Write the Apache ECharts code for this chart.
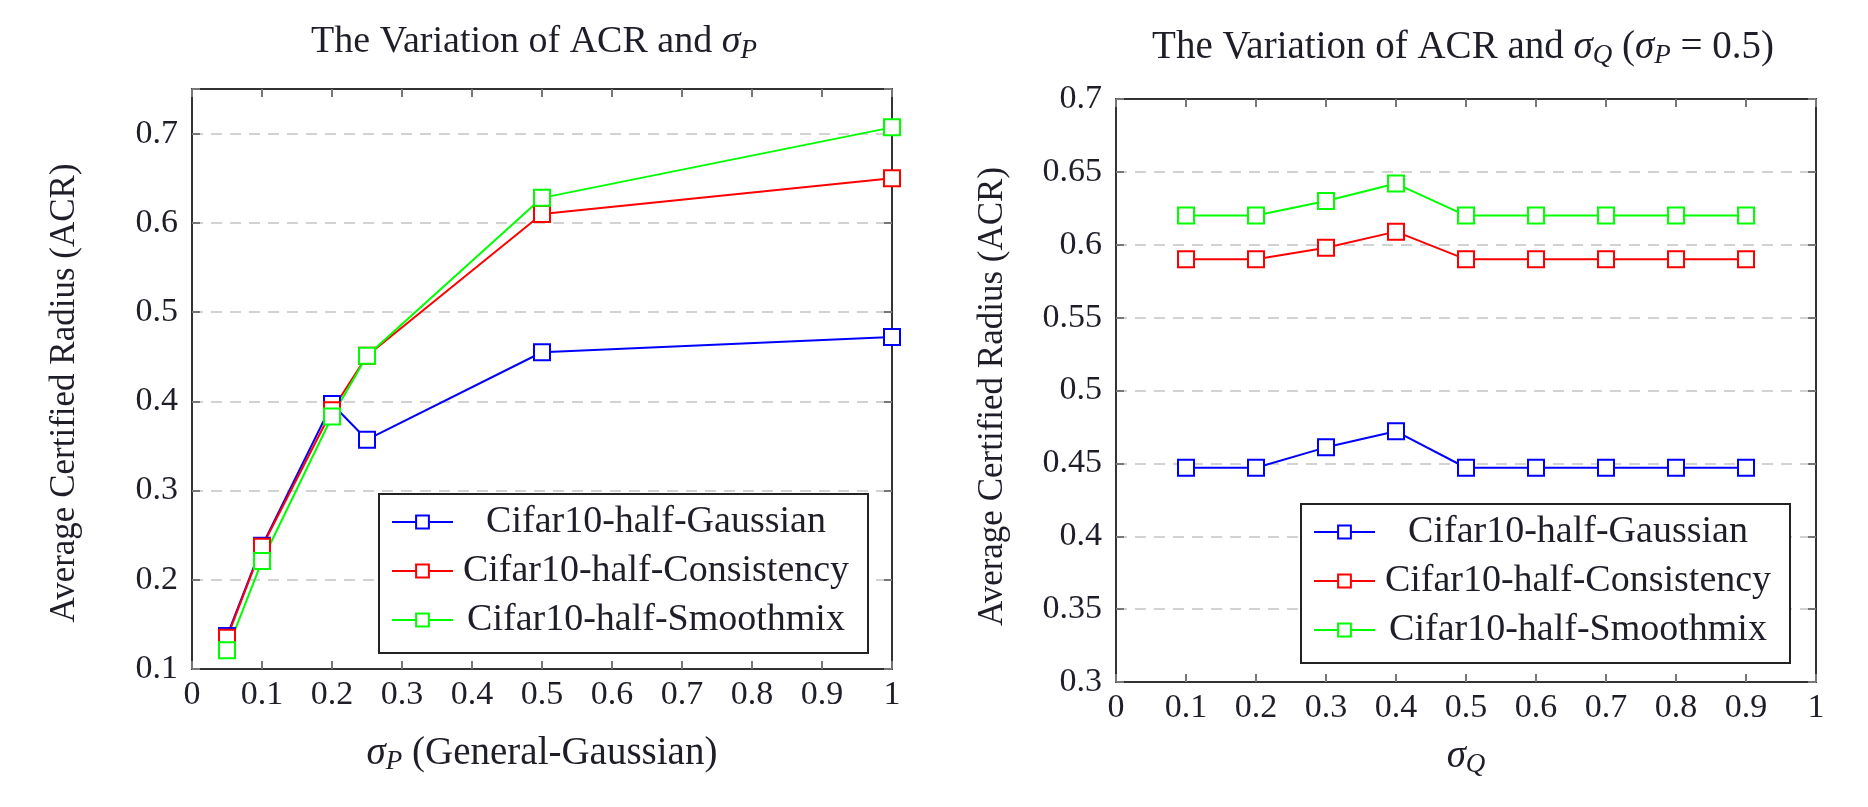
<!DOCTYPE html>
<html>
<head>
<meta charset="utf-8">
<script src="https://cdn.jsdelivr.net/npm/echarts@6/dist/echarts.min.js"></script>
<style>
html, body { margin: 0; padding: 0; background: #fff; }
#main { width: 1868px; height: 807px; }
</style>
</head>
<body>
<div id="main"></div>
<script>
// left panel: ACR vs sigma_P
var sigmaP = [0.05, 0.1, 0.2, 0.25, 0.5, 1];
var gaussP = [0.137, 0.238, 0.397, 0.357, 0.455, 0.472];
var consP = [0.135, 0.237, 0.390, 0.451, 0.610, 0.650];
var smoothP = [0.121, 0.221, 0.383, 0.451, 0.628, 0.707];

// right panel: ACR vs sigma_Q (sigma_P = 0.5)
var sigmaQ = [0.1, 0.2, 0.3, 0.4, 0.5, 0.6, 0.7, 0.8, 0.9];
var gaussQ = [0.447, 0.447, 0.461, 0.472, 0.447, 0.447, 0.447, 0.447, 0.447];
var consQ = [0.590, 0.590, 0.598, 0.609, 0.590, 0.590, 0.590, 0.590, 0.590];
var smoothQ = [0.620, 0.620, 0.630, 0.642, 0.620, 0.620, 0.620, 0.620, 0.620];

var names = ['Cifar10-half-Gaussian', 'Cifar10-half-Consistency', 'Cifar10-half-Smoothmix'];
var colors = ['#0000ff', '#ff0000', '#00ff00'];

var FONT = 'Liberation Serif';
var TXT = '#1e1e28';

var myChart = echarts.init(document.getElementById('main'));

function pairs(xs, ys) {
  var out = [];
  for (var i = 0; i < xs.length; i++) out.push([xs[i], ys[i]]);
  return out;
}

function fmt(v) { return String(parseFloat(v.toFixed(2))); }
// left y axis stops at 0.75 but only labels the tenths
function fmtTenth(v) {
  return Math.abs(v * 10 - Math.round(v * 10)) > 1e-6 ? '' : fmt(v);
}

function richT(size) {
  return {
    a: { fontFamily: FONT, fontSize: size, fontWeight: 'normal', color: TXT },
    i: { fontFamily: FONT, fontSize: size, fontWeight: 'normal', fontStyle: 'italic', color: TXT },
    s: { fontFamily: FONT, fontSize: Math.round(size * 0.7), fontWeight: 'normal', fontStyle: 'italic', color: TXT,
         padding: [Math.round(size * 0.42), 0, 0, 0] }
  };
}

var LINE = { color: '#333', width: 2 };
var TICK = { show: true, inside: true, length: 8, lineStyle: { color: '#777', width: 2 } };

function mainX(grid, name, gap) {
  return {
    type: 'value', gridIndex: grid, min: 0, max: 1, interval: 0.1,
    position: 'bottom',
    name: name, nameLocation: 'middle', nameGap: gap,
    nameTextStyle: { rich: richT(39) },
    axisLine: { show: true, onZero: false, lineStyle: LINE },
    axisTick: TICK,
    axisLabel: { fontFamily: FONT, fontSize: 34, color: TXT, margin: 9, formatter: fmt },
    splitLine: { show: false }
  };
}
function topX(grid) {
  return {
    type: 'value', gridIndex: grid, min: 0, max: 1, interval: 0.1,
    position: 'top',
    axisLine: { show: true, onZero: false, lineStyle: LINE },
    axisTick: TICK,
    axisLabel: { show: false },
    splitLine: { show: false }
  };
}
function mainY(grid, min, max, step, gap, labelFmt, shift) {
  return {
    type: 'value', gridIndex: grid, min: min, max: max, interval: step,
    position: 'left',
    name: 'Average Certified Radius (ACR)', nameLocation: 'middle', nameGap: gap,
    nameTextStyle: { fontFamily: FONT, fontSize: 35, color: TXT, padding: [0, shift, 0, 0] },
    axisLine: { show: true, onZero: false, lineStyle: LINE },
    axisTick: TICK,
    axisLabel: { fontFamily: FONT, fontSize: 34, color: TXT, margin: 14, formatter: labelFmt },
    splitLine: { show: true, lineStyle: { color: '#d2d2d2', width: 2, type: [11, 8] } }
  };
}
function rightY(grid, min, max, step) {
  return {
    type: 'value', gridIndex: grid, min: min, max: max, interval: step,
    position: 'right',
    axisLine: { show: true, onZero: false, lineStyle: LINE },
    axisTick: TICK,
    axisLabel: { show: false },
    splitLine: { show: false }
  };
}

function mkSeries(name, color, data, grid) {
  return {
    name: name, type: 'line', data: data,
    xAxisIndex: grid * 2, yAxisIndex: grid * 2,
    symbol: 'emptyRect', symbolSize: 16,
    lineStyle: { color: color, width: 2 },
    itemStyle: { color: color, borderWidth: 2 },
    animation: false
  };
}

function mkLegend(left, top) {
  return {
    left: left, top: top, orient: 'vertical',
    data: names,
    backgroundColor: '#fff',
    borderColor: '#222', borderWidth: 2, borderRadius: 0,
    padding: [9, 14, 14, 12],
    itemGap: 11, itemWidth: 61, itemHeight: 16,
    selectedMode: false,
    formatter: function (name) { return '{c|' + name + '}'; },
    textStyle: {
      rich: { c: { fontFamily: FONT, fontSize: 38, color: TXT, lineHeight: 42, width: 396, align: 'center' } }
    }
  };
}

var seriesList = [
  mkSeries(names[0], colors[0], pairs(sigmaP, gaussP), 0),
  mkSeries(names[1], colors[1], pairs(sigmaP, consP), 0),
  mkSeries(names[2], colors[2], pairs(sigmaP, smoothP), 0),
  mkSeries(names[0], colors[0], pairs(sigmaQ, gaussQ), 1),
  mkSeries(names[1], colors[1], pairs(sigmaQ, consQ), 1),
  mkSeries(names[2], colors[2], pairs(sigmaQ, smoothQ), 1)
];

var option = {
  backgroundColor: '#fff',
  animation: false,
  title: [
    { text: '{a|The Variation of ACR and }{i|σ}{s|P}', left: 529, top: 16, textAlign: 'center',
      textStyle: { rich: richT(38) } },
    { text: '{a|The Variation of ACR and }{i|σ}{s|Q}{a| (}{i|σ}{s|P}{a| = 0.5)}', left: 1458, top: 21, textAlign: 'center',
      textStyle: { rich: richT(39) } }
  ],
  grid: [
    { left: 192, top: 89, width: 700, height: 580 },
    { left: 1116, top: 99, width: 700, height: 583 }
  ],
  xAxis: [
    mainX(0, '{i|σ}{s|P}{a| (General-Gaussian)}', 63),
    topX(0),
    mainX(1, '{i|σ}{s|Q}', 53),
    topX(1)
  ],
  yAxis: [
    mainY(0, 0.1, 0.75, 0.1, 110, fmtTenth, 28),
    rightY(0, 0.1, 0.75, 0.1),
    mainY(1, 0.3, 0.7, 0.05, 106, fmt, 12),
    rightY(1, 0.3, 0.7, 0.05)
  ],
  legend: [mkLegend(379, 494), mkLegend(1301, 504)],
  series: seriesList
};

myChart.setOption(option);
</script>
</body>
</html>
